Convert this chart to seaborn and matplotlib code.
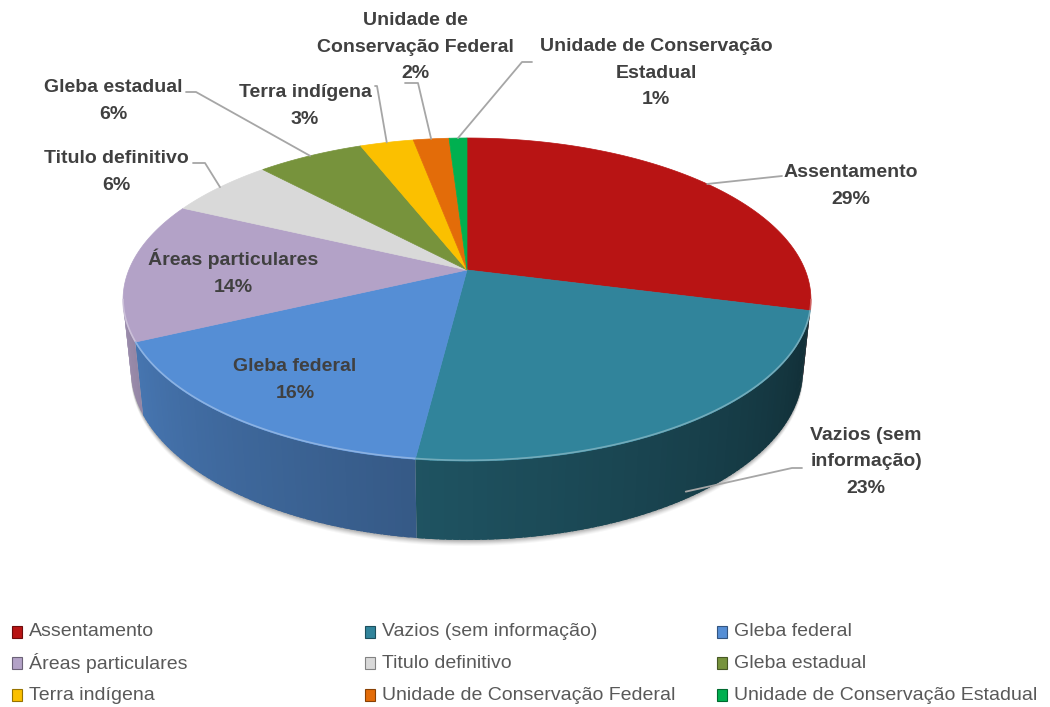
import numpy as np
import matplotlib
matplotlib.use('Agg')
import matplotlib.pyplot as plt
import matplotlib.colors as mcolors
from matplotlib.patches import Polygon, Rectangle
import seaborn as sns

# data
categories = ['Assentamento', 'Vazios (sem informação)', 'Gleba federal',
              'Áreas particulares', 'Titulo definitivo', 'Gleba estadual',
              'Terra indígena', 'Unidade de Conservação Federal',
              'Unidade de Conservação Estadual']
values = [29, 23, 16, 14, 6, 6, 3, 2, 1]
slice_labels = ['Assentamento', 'Vazios (sem\ninformação)', 'Gleba federal',
                'Áreas particulares', 'Titulo definitivo', 'Gleba estadual',
                'Terra indígena', 'Unidade de\nConservação Federal',
                'Unidade de Conservação\nEstadual']
colors = ['#B81414', '#31849B', '#558ED5', '#B3A2C7', '#D9D9D9',
          '#77933C', '#FBC000', '#E36C09', '#00B050']

sns.set_theme(style='white')
plt.rcParams['font.family'] = ['Liberation Sans', 'DejaVu Sans']

# simple perspective view of a tilted disc
phi = np.radians(27.5)
L = 4.85
f = 1640
cx, cy = 467, 270
h = 0.235


def proj(theta, y=0.0):
    X = np.sin(theta)
    Z = -np.cos(theta)
    depth = L - (y * np.sin(phi) + Z * np.cos(phi))
    sx = cx + f * X / depth
    sy = cy - f * (y * np.cos(phi) - Z * np.sin(phi)) / depth
    return sx, sy


fig = plt.figure(figsize=(10.5, 7.07), dpi=100)
ax = fig.add_axes([0, 0, 1, 1])
ax.set_xlim(0, 1050)
ax.set_ylim(707, 0)
ax.axis('off')

fracs = np.array(values) / sum(values)
edges = np.concatenate([[0], np.cumsum(fracs)]) * 2 * np.pi
sil = np.arccos(-np.cos(phi) / L)

# soft shadow under the pie
sh = np.linspace(sil, 2 * np.pi - sil, 200)
for k, a in zip(range(6, 0, -1), [0.03, 0.04, 0.05, 0.06, 0.07, 0.08]):
    pts = [proj(t, -h) for t in sh] + [proj(t) for t in sh[::-1]]
    pts = [(x + 0.0, y + k) for x, y in pts]
    ax.add_patch(Polygon(pts, closed=True, facecolor='black', edgecolor='none', alpha=a))

# side walls (front half only)
for i in range(len(values)):
    a0 = max(edges[i], sil)
    a1 = min(edges[i + 1], 2 * np.pi - sil)
    if a1 <= a0:
        continue
    n = max(2, int(np.degrees(a1 - a0)))
    ts = np.linspace(a0, a1, n + 1)
    step = ts[1] - ts[0]
    base = np.array(mcolors.to_rgb(colors[i]))
    for j, (t0, t1) in enumerate(zip(ts[:-1], ts[1:])):
        tm = 0.5 * (t0 + t1)
        shade = 0.33 + 0.55 * (np.degrees(tm) - 100) / 160
        c = np.clip(base * shade, 0, 1)
        t1e = t1 + 0.8 * step if j < n - 1 else t1
        p = [proj(t0), proj(t1e), proj(t1e, -h), proj(t0, -h)]
        ax.add_patch(Polygon(p, closed=True, facecolor=c, edgecolor='none'))

# top faces
for i in range(len(values)):
    ts = np.linspace(edges[i], edges[i + 1], max(3, int(values[i] * 4)))
    pts = [(cx, cy)] + [proj(t) for t in ts]
    ax.add_patch(Polygon(pts, closed=True, facecolor=colors[i],
                         edgecolor=colors[i], lw=0.5))
    # light bevel on the front rim
    a0 = max(edges[i], sil)
    a1 = min(edges[i + 1], 2 * np.pi - sil)
    if a1 > a0:
        rim = np.linspace(a0, a1, 60)
        rc = np.clip(0.6 * np.array(mcolors.to_rgb(colors[i])) + 0.4, 0, 1)
        ax.plot([proj(t)[0] for t in rim], [proj(t)[1] - 0.8 for t in rim],
                color=rc, lw=1.2, alpha=0.8, solid_capstyle='butt')

# data labels
txt_col = '#404040'
line_col = '#A6A6A6'
lab_pos = [(851, 186), (866, 462), (295, 380), (233, 272), (116, 172),
           (113, 101), (305, 106), (415, 47), (656, 73)]
for i, (x, y) in enumerate(lab_pos):
    ax.text(x, y, f'{slice_labels[i]}\n{values[i]}%', ha='center', va='center',
            fontsize=14, fontweight='bold', color=txt_col, linespacing=1.75)

# leader lines
mid = 0.5 * (edges[:-1] + edges[1:])
leaders = {
    0: [(782, 176)],
    1: [(802, 468), (792, 468)],
    4: [(193, 163), (205, 163)],
    5: [(186, 92), (196, 92)],
    6: [(375, 86), (377, 86)],
    7: [(405, 83), (418, 83)],
    8: [(532, 62), (522, 62)],
}
for i, pts in leaders.items():
    if i == 1:
        end = proj(mid[i], -h * 0.9)
    else:
        end = proj(mid[i])
    xs = [p[0] for p in pts] + [end[0]]
    ys = [p[1] for p in pts] + [end[1]]
    ax.plot(xs, ys, color=line_col, lw=1.3)

# legend
leg_x = [12, 365, 717]
leg_y = [632, 663, 695]
for i, name in enumerate(categories):
    x = leg_x[i % 3]
    y = leg_y[i // 3]
    ax.add_patch(Rectangle((x, y - 6), 10, 12, facecolor=colors[i],
                           edgecolor=np.clip(np.array(mcolors.to_rgb(colors[i])) * 0.6, 0, 1),
                           lw=0.8))
    ax.text(x + 17, y, name, ha='left', va='center', fontsize=14, color='#595959')

fig.savefig('out.png', dpi=100)
